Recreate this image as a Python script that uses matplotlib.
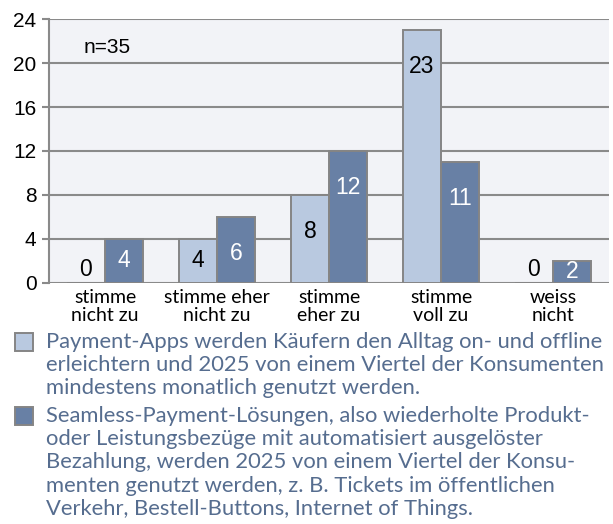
import numpy as np
import matplotlib.pyplot as plt
from matplotlib.patches import Rectangle

categories = ['stimme\nnicht zu', 'stimme eher\nnicht zu', 'stimme\neher zu', 'stimme\nvoll zu', 'weiss\nnicht']
apps = [0, 4, 8, 23, 0]
seamless = [4, 6, 12, 11, 2]
legend_labels = [
    'Payment-Apps werden Käufern den Alltag on- und offline\n'
    'erleichtern und 2025 von einem Viertel der Konsumenten\n'
    'mindestens monatlich genutzt werden.',
    'Seamless-Payment-Lösungen, also wiederholte Produkt-\n'
    'oder Leistungsbezüge mit automatisiert ausgelöster\n'
    'Bezahlung, werden 2025 von einem Viertel der Konsu-\n'
    'menten genutzt werden, z. B. Tickets im öffentlichen\n'
    'Verkehr, Bestell-Buttons, Internet of Things.',
]

light = '#b9c9e0'
dark = '#6880a5'
edge = '#858585'
grid = '#8a8a8a'
txt_blue = '#566d8f'

fig = plt.figure(figsize=(6.13, 5.24), dpi=100)
ax = fig.add_axes([0.08, 0.46, 0.9135, 0.5037])
ax.set_facecolor('#f2f3f7')

x = np.arange(len(categories)) + 0.5
w = 0.34
ax.bar(x - w / 2, apps, w, color=light, edgecolor=edge, linewidth=1.4, zorder=3)
ax.bar(x + w / 2, seamless, w, color=dark, edgecolor=edge, linewidth=1.4, zorder=3)

# value labels, Excel style "inside end"
def label_pos(v):
    if v == 0:
        return 1.2
    if v < 6:
        return v / 2
    return v - 3.3

for xi, v in zip(x - w / 2, apps):
    ax.text(xi, label_pos(v), str(v), ha='center', va='center',
            fontsize=16.5, color='black', family='Liberation Sans', zorder=4)
for xi, v in zip(x + w / 2, seamless):
    ax.text(xi, label_pos(v), str(v), ha='center', va='center',
            fontsize=16.5, color='white', family='Liberation Sans', zorder=4)

ax.text(0.305, 21.4, 'n=35', ha='left', va='center', fontsize=15,
        family='Liberation Sans')

ax.set_xlim(0, 5)
ax.set_ylim(0, 24)
ax.set_yticks(range(0, 25, 4))
ax.yaxis.grid(True, color=grid, linewidth=1.5, zorder=1)
ax.set_axisbelow(True)
for s in ['top', 'right', 'bottom']:
    ax.spines[s].set_visible(False)
ax.spines['left'].set_color(grid)
ax.spines['left'].set_linewidth(1.5)
ax.tick_params(axis='y', length=5, width=1.5, color=grid, labelsize=15, pad=4)
for t in ax.get_yticklabels():
    t.set_family('Liberation Sans')
ax.set_xticks(x)
ax.set_xticklabels(categories, fontsize=14, family='Lato', linespacing=1.08)
ax.tick_params(axis='x', length=0, pad=4)

# legend
tops = [333, 407]
for top, col, lab in zip(tops, [light, dark], legend_labels):
    fig.patches.append(Rectangle((15 / 613, 1 - (top + 18) / 524), 18 / 613, 18 / 524,
                                 transform=fig.transFigure, facecolor=col,
                                 edgecolor=edge, linewidth=1.4))
    fig.text(46 / 613, 1 - (top - 1) / 524, lab, ha='left', va='top',
             fontsize=15.8, family='Lato', color=txt_blue, linespacing=1.2)

fig.savefig('out.png', dpi=100)
